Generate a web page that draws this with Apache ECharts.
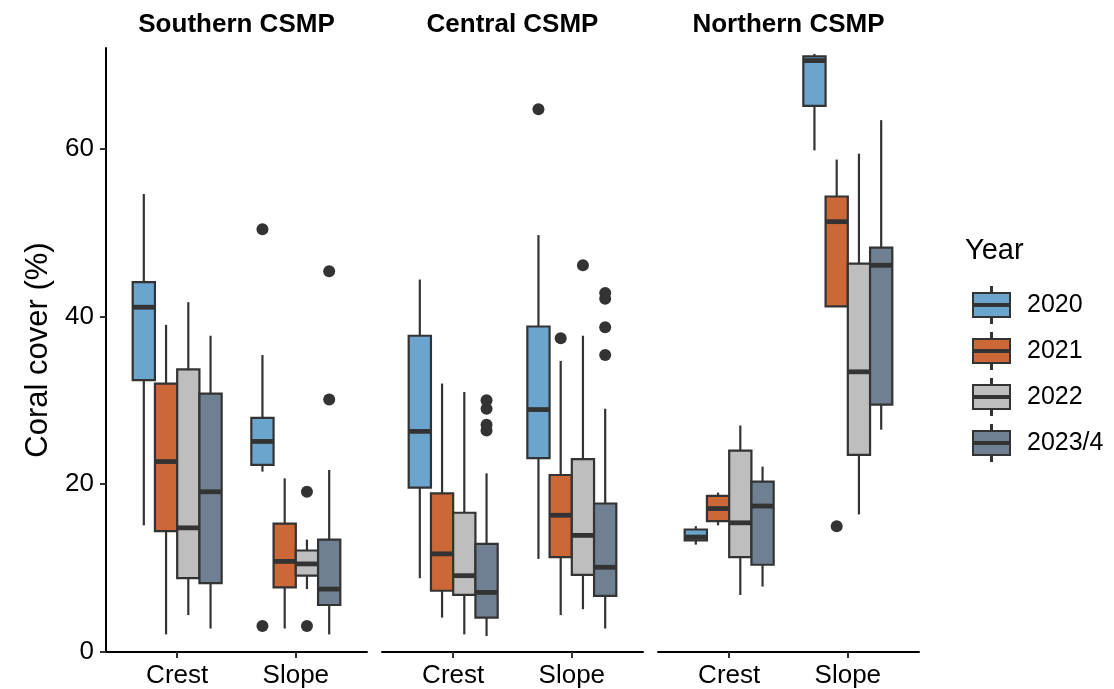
<!DOCTYPE html>
<html>
<head>
<meta charset="utf-8">
<script src="https://cdn.jsdelivr.net/npm/echarts@6/dist/echarts.min.js"></script>
<style>
    html, body { margin: 0; padding: 0; background: #fff; }
    #chart { width: 1114px; height: 689px; }
</style>
</head>
<body>
<div id="chart"></div>
<script>
const years = ['2020', '2021', '2022', '2023/4'];
const sites = ['Crest', 'Slope'];
const regions = ['Southern CSMP', 'Central CSMP', 'Northern CSMP'];
const yTicks = [0, 20, 40, 60];
const yearColors = ['#6BA5CE', '#CC6737', '#BEBEBE', '#6F8092'];

// [lower whisker, Q1, median, Q3, upper whisker], one row per year
const southernCrest = [
    [15.1, 32.4, 41.1, 44.1, 54.6],
    [2.1, 14.4, 22.7, 32.0, 39.0],
    [4.4, 8.8, 14.8, 33.7, 41.7],
    [2.8, 8.2, 19.1, 30.8, 37.7]
];
const southernSlope = [
    [21.5, 22.3, 25.1, 27.9, 35.4],
    [2.8, 7.7, 10.8, 15.3, 20.7],
    [7.5, 9.1, 10.5, 12.1, 13.4],
    [2.1, 5.6, 7.5, 13.4, 21.7]
];
const centralCrest = [
    [8.8, 19.6, 26.3, 37.7, 44.4],
    [4.1, 7.3, 11.7, 18.9, 32.0],
    [2.1, 6.8, 9.1, 16.6, 31.0],
    [1.9, 4.1, 7.1, 12.9, 21.3]
];
const centralSlope = [
    [11.1, 23.1, 28.9, 38.8, 49.7],
    [4.4, 11.3, 16.3, 21.1, 34.7],
    [5.1, 9.2, 13.9, 23.0, 37.7],
    [2.8, 6.7, 10.1, 17.7, 29.0]
];
const northernCrest = [
    [12.8, 13.3, 13.7, 14.6, 15.0],
    [15.1, 15.6, 17.1, 18.6, 19.0],
    [6.8, 11.3, 15.4, 24.0, 27.0],
    [7.8, 10.4, 17.4, 20.3, 22.1]
];
const northernSlope = [
    [59.8, 65.1, 70.5, 71.0, 71.3],
    [41.2, 41.2, 51.3, 54.3, 58.7],
    [16.4, 23.5, 33.4, 46.3, 59.4],
    [26.5, 29.5, 46.1, 48.2, 63.4]
];

// outliers: [site (1 = Crest, 2 = Slope), year index, value]
const southernOutliers = [
    [2, 0, 50.4], [2, 0, 3.1], [2, 2, 19.1], [2, 2, 3.1], [2, 3, 45.4], [2, 3, 30.1]
];
const centralOutliers = [
    [1, 3, 30.0], [1, 3, 29.0], [1, 3, 27.1], [1, 3, 26.4],
    [2, 0, 64.7], [2, 1, 37.4], [2, 2, 46.1],
    [2, 3, 42.8], [2, 3, 42.1], [2, 3, 38.7], [2, 3, 35.4]
];
const northernOutliers = [
    [2, 1, 15.0]
];

const crestData = [southernCrest, centralCrest, northernCrest];
const slopeData = [southernSlope, centralSlope, northernSlope];
const outlierData = [southernOutliers, centralOutliers, northernOutliers];

// ggplot style dodge: width 0.75 split over 4 years
const boxWidth = 0.75 / 4;
const dodge = [-1.5, -0.5, 0.5, 1.5].map(k => k * boxWidth);

const panelLeft = [106, 382, 658];
const panelWidth = 261;
const font = 'Liberation Sans, Arial, sans-serif';
const dark = '#333333';

function boxRenderer(yi) {
    return function (params, api) {
        const x = api.value(0) + dodge[yi];
        const lo = api.coord([x, api.value(1)]);
        const q1 = api.coord([x, api.value(2)]);
        const md = api.coord([x, api.value(3)]);
        const q3 = api.coord([x, api.value(4)]);
        const hi = api.coord([x, api.value(5)]);
        const left = api.coord([x - boxWidth / 2, 0])[0];
        const right = api.coord([x + boxWidth / 2, 0])[0];
        return {
            type: 'group',
            children: [
                { type: 'line', shape: { x1: lo[0], y1: lo[1], x2: q1[0], y2: q1[1] }, style: { stroke: dark, lineWidth: 2.2 } },
                { type: 'line', shape: { x1: q3[0], y1: q3[1], x2: hi[0], y2: hi[1] }, style: { stroke: dark, lineWidth: 2.2 } },
                { type: 'rect', shape: { x: left, y: q3[1], width: right - left, height: q1[1] - q3[1] },
                  style: { fill: api.visual('color'), stroke: dark, lineWidth: 2.2 } },
                { type: 'line', shape: { x1: left, y1: md[1], x2: right, y2: md[1] }, style: { stroke: dark, lineWidth: 4.8 } }
            ]
        };
    };
}

const grids = [], xAxes = [], yAxes = [], series = [], titles = [];

regions.forEach((reg, r) => {
    grids.push({ left: panelLeft[r], width: panelWidth, top: 48, bottom: 36 });
    titles.push({
        text: reg, left: panelLeft[r] + panelWidth / 2, top: 12, textAlign: 'center', padding: 0,
        textStyle: { fontFamily: font, fontSize: 26, fontWeight: 'bold', color: '#000' }
    });
    xAxes.push({
        type: 'value', gridIndex: r, min: 0.4, max: 2.6,
        splitLine: { show: false },
        axisLine: { show: true, lineStyle: { color: '#000', width: 2 } },
        axisTick: { show: true, customValues: [1, 2], length: 6, lineStyle: { color: dark, width: 2 } },
        axisLabel: {
            customValues: [1, 2], margin: 11, fontSize: 26, fontFamily: font, color: '#000',
            formatter: v => sites[Math.round(v) - 1]
        }
    });
    yAxes.push({
        type: 'value', gridIndex: r, min: 0, max: 72,
        show: r === 0,
        name: r === 0 ? 'Coral cover (%)' : '',
        nameLocation: 'middle', nameGap: 52,
        nameTextStyle: { fontFamily: font, fontSize: 31, color: '#000' },
        splitLine: { show: false },
        axisLine: { show: true, lineStyle: { color: '#000', width: 2 } },
        axisTick: { show: true, customValues: yTicks, length: 6, lineStyle: { color: dark, width: 2 } },
        axisLabel: { customValues: yTicks, margin: 12, fontSize: 26, fontFamily: font, color: '#000' }
    });
    years.forEach((yr, yi) => {
        series.push({
            type: 'custom', name: yr, xAxisIndex: r, yAxisIndex: r,
            itemStyle: { color: yearColors[yi] },
            renderItem: boxRenderer(yi),
            encode: { x: 0, y: [1, 2, 3, 4, 5] },
            data: [[1].concat(crestData[r][yi]), [2].concat(slopeData[r][yi])]
        });
    });
    series.push({
        type: 'scatter', name: 'outliers', xAxisIndex: r, yAxisIndex: r,
        symbolSize: 12, itemStyle: { color: dark, opacity: 1 },
        data: outlierData[r].map(o => [o[0] + dodge[o[1]], o[2]]),
        z: 3
    });
});

titles.push({
    text: 'Year', left: 965, top: 236, padding: 0,
    textStyle: { fontFamily: font, fontSize: 29, fontWeight: 'normal', color: '#000' }
});

const chart = echarts.init(document.getElementById('chart'));
chart.setOption({
    animation: false,
    backgroundColor: '#fff',
    title: titles,
    grid: grids,
    xAxis: xAxes,
    yAxis: yAxes,
    legend: {
        data: years,
        orient: 'vertical',
        left: 967, top: 281,
        itemWidth: 37, itemHeight: 36, itemGap: 8,
        icon: 'path://M18,0 h1 v6 h-1 z M0,6 h37 v24 h-37 z M0,17 h37 v2 h-37 z M18,30 h1 v6 h-1 z',
        itemStyle: { borderColor: dark, borderWidth: 2 },
        textStyle: { fontFamily: font, fontSize: 25, color: '#000', padding: [0, 0, 0, 12] },
        selectedMode: false
    },
    series: series
});
</script>
</body>
</html>
